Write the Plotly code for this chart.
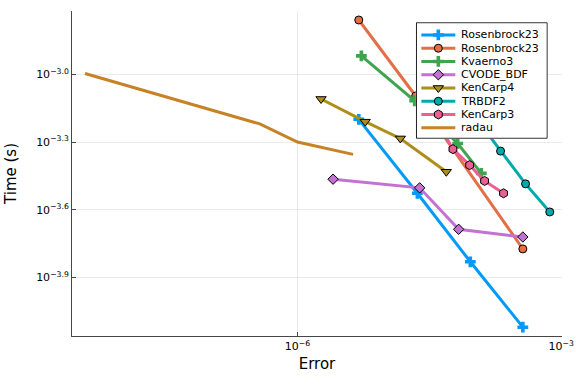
import plotly.graph_objects as go

# ---- data (Error, Time in seconds) ----
ros23a_err = [4.98e-6, 2.31e-5, 9.25e-5, 3.66e-4]
ros23a_time = [6.32e-4, 2.97e-4, 1.476e-4, 7.57e-5]

ros23b_err = [4.98e-6, 2.21e-5, 3.66e-4]
ros23b_time = [1.742e-3, 8.02e-4, 1.683e-4]

kvaerno3_err = [5.33e-6, 2.153e-5, 6.64e-5, 1.233e-4]
kvaerno3_time = [1.208e-3, 7.64e-4, 4.94e-4, 3.64e-4]

cvode_err = [2.54e-6, 2.455e-5, 6.81e-5, 3.66e-4]
cvode_time = [3.43e-4, 3.14e-4, 2.056e-4, 1.901e-4]

kencarp4_err = [1.854e-6, 5.89e-6, 1.479e-5, 4.93e-5]
kencarp4_time = [7.78e-4, 6.17e-4, 5.20e-4, 3.70e-4]

trbdf2_err = [1.119e-4, 2.042e-4, 3.93e-4, 7.41e-4]
trbdf2_time = [6.27e-4, 4.57e-4, 3.27e-4, 2.455e-4]

kencarp3_err = [3.93e-5, 5.86e-5, 9.08e-5, 1.343e-4, 2.208e-4]
kencarp3_time = [6.15e-4, 4.66e-4, 3.96e-4, 3.37e-4, 2.97e-4]

radau_err = [3.83e-9, 3.73e-7, 1.0e-6, 4.29e-6]
radau_time = [1.009e-3, 6.03e-4, 5.01e-4, 4.42e-4]

x_tickvals = [1e-6, 1e-3]
x_ticktext = ["10<sup>−6</sup>", "10<sup>−3</sup>"]
y_tickvals = [10 ** -3.0, 10 ** -3.3, 10 ** -3.6, 10 ** -3.9]
y_ticktext = ["10<sup>−3.0</sup>", "10<sup>−3.3</sup>", "10<sup>−3.6</sup>", "10<sup>−3.9</sup>"]

FONT = "DejaVu Sans"

series = [
    ("Rosenbrock23", ros23a_err, ros23a_time, "#009AFA", "cross", 9, 0),
    ("Rosenbrock23", ros23b_err, ros23b_time, "#E36F47", "circle", 8, 1),
    ("Kvaerno3", kvaerno3_err, kvaerno3_time, "#3EA44E", "cross", 9, 0),
    ("CVODE_BDF", cvode_err, cvode_time, "#C371D2", "diamond", 8, 1),
    ("KenCarp4", kencarp4_err, kencarp4_time, "#AC8E18", "triangle-down", 9, 1),
    ("TRBDF2", trbdf2_err, trbdf2_time, "#00A9AD", "circle", 8, 1),
    ("KenCarp3", kencarp3_err, kencarp3_time, "#ED5E93", "hexagon", 9, 1),
    ("radau", radau_err, radau_time, "#C68225", None, 0, 0),
]

fig = go.Figure()
for name, xs, ys, color, sym, size, mlw in series:
    if sym is None:
        fig.add_trace(go.Scatter(x=xs, y=ys, name=name, mode="lines",
                                 line=dict(color=color, width=3), showlegend=False))
    else:
        fig.add_trace(go.Scatter(
            x=xs, y=ys, name=name, mode="lines+markers",
            line=dict(color=color, width=3),
            marker=dict(symbol=sym, size=size, color=color,
                        line=dict(color="black", width=mlw)),
            showlegend=False,
        ))

# ---- legend box drawn in its own small subplot (units = pixels) ----
LW, LH = 131, 116
fig.add_trace(go.Scatter(
    x=[0, LW, LW, 0, 0], y=[0, 0, LH, LH, 0], mode="lines", fill="toself",
    fillcolor="white", line=dict(color="black", width=1),
    xaxis="x2", yaxis="y2", showlegend=False, hoverinfo="skip"))
row0, drow = 12.3, 13.3
for i, (name, xs, ys, color, sym, size, mlw) in enumerate(series):
    ry = row0 + drow * i
    fig.add_trace(go.Scatter(x=[5, 39], y=[ry, ry], mode="lines",
                             line=dict(color=color, width=3),
                             xaxis="x2", yaxis="y2", showlegend=False, hoverinfo="skip"))
    if sym is not None:
        fig.add_trace(go.Scatter(x=[22], y=[ry], mode="markers",
                                 marker=dict(symbol=sym, size=size, color=color,
                                             line=dict(color="black", width=mlw)),
                                 xaxis="x2", yaxis="y2", showlegend=False, hoverinfo="skip"))
    fig.add_annotation(x=43, y=ry, xref="x2", yref="y2", text=name, showarrow=False,
                       xanchor="left", yanchor="middle",
                       font=dict(family=FONT, size=11, color="black"))

axis_common = dict(
    type="log",
    showline=True, linecolor="rgb(70,70,70)", linewidth=1,
    showgrid=True, gridcolor="rgba(0,0,0,0.08)", gridwidth=1,
    ticks="inside", ticklen=4, tickcolor="rgb(70,70,70)",
    zeroline=False, mirror=False,
    tickfont=dict(family=FONT, size=11, color="black"),
)

fig.update_layout(
    width=576, height=384,
    margin=dict(l=72, r=14, t=11, b=48),
    plot_bgcolor="white", paper_bgcolor="white",
    font=dict(family=FONT, size=11, color="black"),
    showlegend=False,
    xaxis=dict(**axis_common, automargin="height", range=[-8.565, -2.991], domain=[0, 1],
               tickvals=x_tickvals, ticktext=x_ticktext,
               title=dict(text="Error", standoff=6,
                          font=dict(family=FONT, size=15, color="black"))),
    yaxis=dict(**axis_common, automargin=False, range=[-4.160, -2.719], domain=[0, 1],
               tickvals=y_tickvals, ticktext=y_ticktext,
               title=dict(text="Time (s)", font=dict(family=FONT, size=15, color="black"))),
    xaxis2=dict(domain=[(416.2 - 72) / 490.5, (548.2 - 72) / 490.5], range=[-0.5, LW + 0.5],
                anchor="y2", visible=False, fixedrange=True),
    yaxis2=dict(domain=[(336 - 138.8) / 325, (336 - 22.2) / 325], range=[LH + 0.5, -0.5],
                anchor="x2", visible=False, fixedrange=True),
)

fig.write_html("out.html", config={"displayModeBar": False},
               post_script="document.body.style.margin='0';document.body.style.overflow='hidden';")
